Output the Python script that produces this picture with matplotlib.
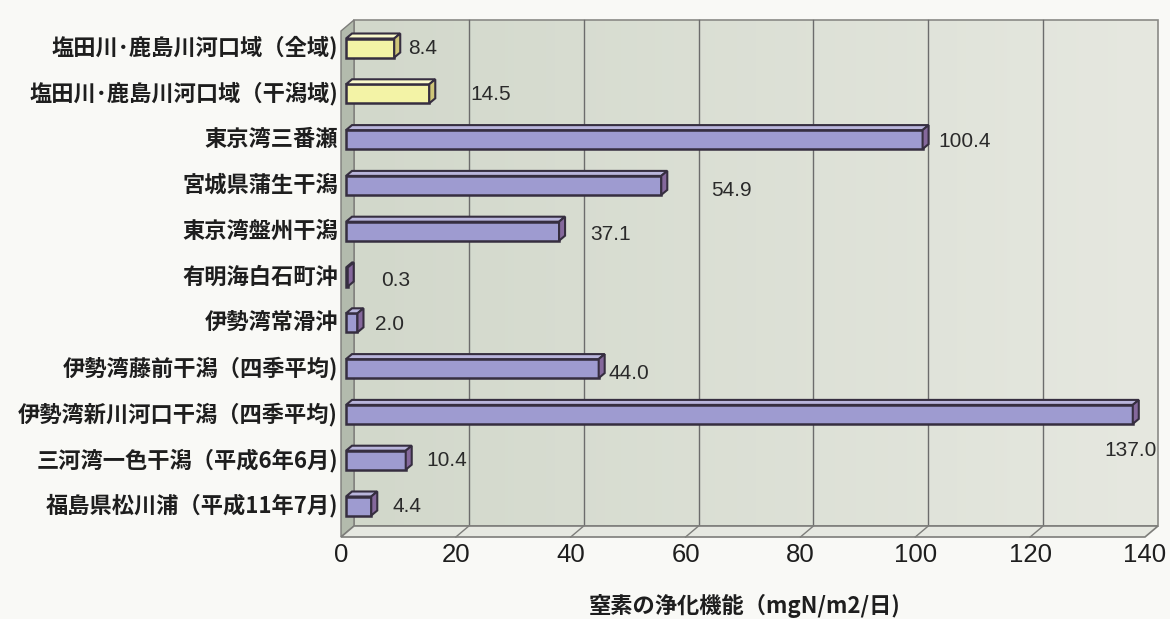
import numpy as np
import matplotlib
matplotlib.use("Agg")
import matplotlib.pyplot as plt
from matplotlib.patches import Polygon, Rectangle

# ---- data -------------------------------------------------------------
categories = [
    "塩田川･鹿島川河口域（全域)",
    "塩田川･鹿島川河口域（干潟域)",
    "東京湾三番瀬",
    "宮城県蒲生干潟",
    "東京湾盤州干潟",
    "有明海白石町沖",
    "伊勢湾常滑沖",
    "伊勢湾藤前干潟（四季平均)",
    "伊勢湾新川河口干潟（四季平均)",
    "三河湾一色干潟（平成6年6月)",
    "福島県松川浦（平成11年7月)",
]
values = [8.4, 14.5, 100.4, 54.9, 37.1, 0.3, 2.0, 44.0, 137.0, 10.4, 4.4]
is_local = [True, True, False, False, False, False, False, False, False, False, False]
x_ticks = [0, 20, 40, 60, 80, 100, 120, 140]
x_label = "窒素の浄化機能（mgN/m2/日)"

# value-label placement (pixel offsets from the bar's right edge: dx, dy down, alignment)
label_offsets = [
    (8, 0, "left"), (35, 1, "left"), (10, 2, "left"), (44, 5, "left"),
    (25, 3, "left"), (27, 3, "left"), (12, 2, "left"), (4, 5, "left"),
    (18, 36, "right"), (15, 0, "left"), (15, 0, "left"),
]

# ---- geometry (pixels) -------------------------------------------------
W, H = 1170, 619
left_px, right_px, top_px, bottom_px = 341, 1145, 31, 537
pitch = 45.8          # px between category rows
first_center = 48     # px of first row centre
xmax = 140
n = len(categories)

sx = (right_px - left_px) / xmax   # px per x unit
sy = pitch                         # px per y unit
yhi = (n - 1) + (first_center - top_px) / pitch
ylo = (n - 1) - (bottom_px - first_center) / pitch

DX, DY = 13 / sx, 11 / sy          # chart depth
bx0 = 5 / sx                       # bar start inset
hh = 9.5 / sy                      # half bar height
bdx, bdy = 6 / sx, 5 / sy          # bar depth

JP = ["Noto Sans CJK JP", "DejaVu Sans"]
NUM = ["Liberation Sans", "DejaVu Sans"]

fig = plt.figure(figsize=(W / 100, H / 100), dpi=100, facecolor="#f9f9f6")
ax = fig.add_axes([left_px / W, 1 - bottom_px / H,
                   (right_px - left_px) / W, (bottom_px - top_px) / H])
ax.set_axis_off()

# back wall with a soft left-to-right shade
grad = np.linspace(0, 1, 256)[None, :, None]
c0 = np.array([210, 216, 203]) / 255
c1 = np.array([230, 232, 224]) / 255
img = c0 + (c1 - c0) * grad
ax.imshow(img, extent=[DX, xmax + DX, ylo + DY, yhi + DY],
          aspect="auto", origin="lower", zorder=0, clip_on=False)
ax.add_patch(Rectangle((DX, ylo + DY), xmax, yhi - ylo, fill=False,
                       edgecolor="#8a8a86", lw=1.2, zorder=1, clip_on=False))

# gridlines on the back wall
for t in x_ticks[1:-1]:
    ax.plot([t + DX, t + DX], [ylo + DY, yhi + DY], color="#6c6c6c",
            lw=1.0, zorder=1, clip_on=False)

# left wall
ax.add_patch(Polygon([(0, ylo), (0, yhi), (DX, yhi + DY), (DX, ylo + DY)],
                     closed=True, facecolor="#b3bbad", edgecolor="#7d7d7a",
                     lw=1.0, zorder=2, clip_on=False))
# floor
ax.add_patch(Polygon([(0, ylo), (xmax, ylo), (xmax + DX, ylo + DY), (DX, ylo + DY)],
                     closed=True, facecolor="#e6e8e1", edgecolor="#7d7d7a",
                     lw=1.2, zorder=2, clip_on=False))
for t in x_ticks[1:-1]:
    ax.plot([t, t + DX], [ylo, ylo + DY], color="#7d7d7a", lw=1.0,
            zorder=2, clip_on=False)

# bars
edge = "#362e40"
for i, (v, loc) in enumerate(zip(values, is_local)):
    yc = n - 1 - i
    x1 = bx0 + v
    if loc:
        face, topc, sidec = "#f3f3a6", "#fafacc", "#cfc679"
    else:
        face, topc, sidec = "#9e9bd0", "#b9b5dc", "#85689c"
    ax.add_patch(Rectangle((bx0, yc - hh), v, 2 * hh, facecolor=face,
                           edgecolor=edge, lw=1.8, zorder=4, clip_on=False))
    ax.add_patch(Polygon([(bx0, yc + hh), (x1, yc + hh),
                          (x1 + bdx, yc + hh + bdy), (bx0 + bdx, yc + hh + bdy)],
                         closed=True, facecolor=topc, edgecolor=edge, lw=1.5,
                         zorder=4, clip_on=False))
    ax.add_patch(Polygon([(x1, yc - hh), (x1, yc + hh),
                          (x1 + bdx, yc + hh + bdy), (x1 + bdx, yc - hh + bdy)],
                         closed=True, facecolor=sidec, edgecolor=edge, lw=1.5,
                         zorder=4, clip_on=False))

    dx, dy, ha = label_offsets[i]
    ax.annotate(f"{v:.1f}", xy=(x1 + bdx, yc), xytext=(dx * 0.72, -dy * 0.72),
                textcoords="offset points", ha=ha, va="center",
                fontsize=15, family=NUM, color="#2a2a2a", zorder=6,
                annotation_clip=False)

    # category label
    ax.text(-3 / sx, yc, categories[i], ha="right", va="center",
            fontsize=16, family=JP, fontweight="bold", color="#1e1e1e",
            clip_on=False)

# x tick labels
tick_y = (n - 1) - (555 - first_center) / pitch
for t in x_ticks:
    ax.text(t, tick_y, str(t), ha="center", va="center", fontsize=18.5,
            family=NUM, color="#1e1e1e", clip_on=False)

fig.text(745 / W, 1 - 606 / H, x_label, ha="center", va="center",
         fontsize=16, family=JP, fontweight="bold", color="#1e1e1e")

ax.set_xlim(0, xmax)
ax.set_ylim(ylo, yhi)

fig.savefig("out.png", dpi=100, facecolor=fig.get_facecolor())
